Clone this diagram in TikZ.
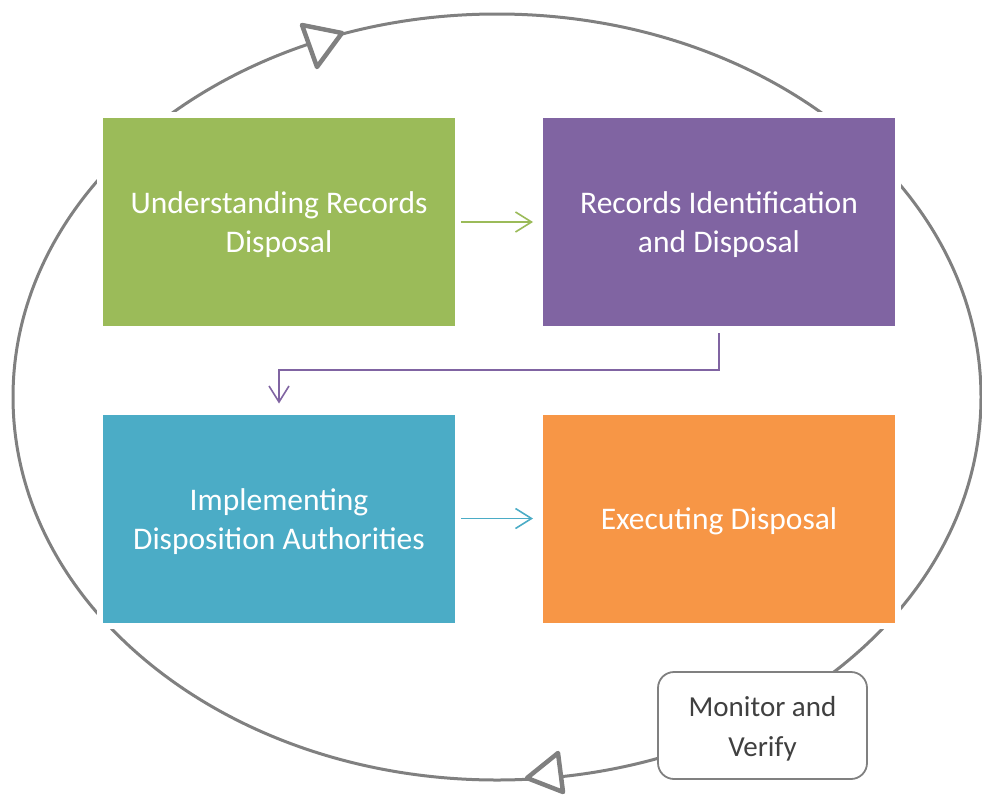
\documentclass[tikz,border=0pt]{standalone}
\usepackage{fontspec}
\setmainfont{Carlito}
\usetikzlibrary{arrows.meta}
\definecolor{stepgreen}{HTML}{9BBB59}
\definecolor{steppurple}{HTML}{8064A2}
\definecolor{stepblue}{HTML}{4BACC6}
\definecolor{steporange}{HTML}{F79646}
\definecolor{ringgray}{HTML}{808080}
\definecolor{textgray}{HTML}{404040}
\begin{document}
\begin{tikzpicture}[x=1pt, y=-1pt,
  stepbox/.style={draw=white, line width=6pt, minimum width=358pt, minimum height=214pt,
    inner sep=0pt},
  steptext/.style={text=white, align=center, inner sep=0pt, yshift=-3pt,
    font=\fontsize{31.5}{39}\selectfont},
  flow/.style={line width=1.6pt, -{Straight Barb[length=16pt, width=20pt, line width=1.6pt]}},
  ring/.style={draw=ringgray, line width=3pt},
  ringtip/.style={draw=ringgray, fill=white, line width=4.5pt, line join=round},
  note/.style={draw=ringgray, fill=white, line width=1.8pt, rounded corners=16pt,
    minimum width=209pt, minimum height=107pt, inner sep=0pt},
  notetext/.style={text=textgray, align=center, inner sep=0pt, yshift=-3pt,
    font=\fontsize{29}{40}\selectfont}
]
\useasboundingbox (0,0) rectangle (982,795);

% the monitoring cycle behind the steps
\draw[ring] (497,397) ellipse [x radius=484, y radius=383];

% process steps
\node[stepbox, fill=stepgreen, label={[steptext]center:Understanding Records\\Disposal}]
  (understand) at (279,222) {};
\node[stepbox, fill=steppurple, label={[steptext]center:Records Identification\\and Disposal}]
  (identify) at (719,222) {};
\node[stepbox, fill=stepblue, label={[steptext]center:Implementing\\Disposition Authorities}]
  (implement) at (279,518.5) {};
\node[stepbox, fill=steporange, label={[steptext]center:Executing Disposal}]
  (execute) at (719,518.5) {};

% flow between the steps
\draw[flow, draw=stepgreen, shorten >=4pt] (understand) -- (identify);
\draw[flow, draw=steppurple, shorten <=1pt, shorten >=5pt]
  (identify.south) -- ++(0,38) -| (implement.north);
\draw[flow, draw=stepblue, shorten >=4pt] (implement) -- (execute);

% direction marks on the cycle
\draw[ringtip] (342,33) -- (302,25) -- (317,67) -- cycle;
\draw[ringtip] (527,778) -- (558,753) -- (563,792) -- cycle;

% monitoring label on the cycle
\node[note, label={[notetext]center:Monitor and\\Verify}] (monitor) at (762.5,725.5) {};
\end{tikzpicture}
\end{document}
